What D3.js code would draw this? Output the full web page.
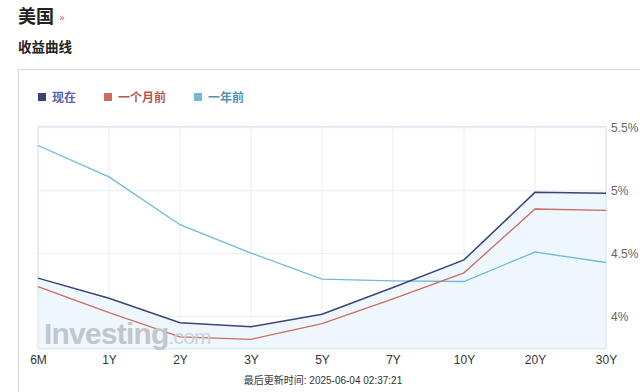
<!DOCTYPE html>
<html>
<head>
<meta charset="utf-8">
<script src="https://cdn.jsdelivr.net/npm/d3@7"></script>
<style>
  body { margin: 0; background: #fff; font-family: Arial, "Liberation Sans", "Noto Sans CJK SC", sans-serif; }
  #chart { width: 640px; height: 392px; }
</style>
</head>
<body>
<div id="chart"></div>
<script>
// tenors and yields (%)
const categories = ["6M", "1Y", "2Y", "3Y", "5Y", "7Y", "10Y", "20Y", "30Y"];
const current = [4.306, 4.146, 3.952, 3.92, 4.019, 4.231, 4.451, 4.987, 4.979];
const monthAgo = [4.239, 4.032, 3.84, 3.82, 3.944, 4.141, 4.348, 4.855, 4.844];
const yearAgo = [5.359, 5.11, 4.73, 4.505, 4.298, 4.284, 4.279, 4.513, 4.43];
const yTicks = [4, 4.5, 5, 5.5];
const yTickLabels = ["4%", "4.5%", "5%", "5.5%"];
const seriesNames = ["现在", "一个月前", "一年前"];
const updated = "最后更新时间: 2025-06-04 02:37:21";

const colors = ["#3b4379", "#cd6b62", "#71b9db"];
const textColors = ["#5a60ad", "#b55a50", "#4f93b5"];

const width = 640, height = 392;
const margin = { top: 126.5, right: 34, bottom: 43, left: 38 };

const svg = d3.select("#chart").append("svg")
  .attr("width", width)
  .attr("height", height);

// page header
svg.append("text").attr("x", 18).attr("y", 23)
  .attr("font-size", 18).attr("font-weight", "bold").attr("fill", "#222")
  .text("美国");
svg.append("text").attr("x", 59).attr("y", 21)
  .attr("font-size", 10).attr("fill", "#8a6f8c").text("»");
svg.append("text").attr("x", 18).attr("y", 52)
  .attr("font-size", 13.5).attr("font-weight", "bold").attr("fill", "#222")
  .text("收益曲线");

// container box (top and left edges)
svg.append("path")
  .attr("d", "M18.5,392 V69.5 H640")
  .attr("fill", "none").attr("stroke", "#d6d6d6");

// legend
const legend = svg.append("g");
const legendX = [38, 104, 194];
seriesNames.forEach((name, i) => {
  legend.append("rect").attr("x", legendX[i]).attr("y", 93)
    .attr("width", 8).attr("height", 8).attr("fill", colors[i]);
  legend.append("text").attr("x", legendX[i] + 14).attr("y", 102)
    .attr("font-size", 12).attr("font-weight", "bold").attr("fill", textColors[i])
    .text(name);
});

const x = d3.scalePoint()
  .domain(categories)
  .range([margin.left, width - margin.right]);

const y = d3.scaleLinear()
  .domain([3.743, 5.51])
  .range([height - margin.bottom, margin.top]);

const g = svg.append("g");

// vertical grid
g.append("g")
  .selectAll("line")
  .data(categories)
  .join("line")
  .attr("x1", (d) => x(d)).attr("x2", (d) => x(d))
  .attr("y1", margin.top).attr("y2", height - margin.bottom)
  .attr("stroke", "#e6edf7");

// horizontal grid
g.append("g")
  .selectAll("line")
  .data(yTicks)
  .join("line")
  .attr("x1", margin.left).attr("x2", width - margin.right)
  .attr("y1", (d) => y(d)).attr("y2", (d) => y(d))
  .attr("stroke", "#e6edf7");

// area under current curve
const area = d3.area()
  .x((d, i) => x(categories[i]))
  .y0(height - margin.bottom)
  .y1((d) => y(d));
g.append("path").datum(current)
  .attr("d", area)
  .attr("fill", "#eef7fe");

// watermark
svg.append("text").attr("x", 44).attr("y", 344)
  .attr("font-size", 30).attr("font-weight", "bold").attr("fill", "#c3c6cb")
  .attr("font-family", "Arial, 'Liberation Sans', sans-serif")
  .attr("letter-spacing", -0.8)
  .text("Investing")
  .append("tspan").attr("font-size", 21).attr("font-weight", "normal")
  .attr("fill", "#cfd2d6").text(".com");

// plot border
g.append("rect")
  .attr("x", margin.left).attr("y", margin.top)
  .attr("width", width - margin.right - margin.left)
  .attr("height", height - margin.bottom - margin.top)
  .attr("fill", "none").attr("stroke", "#dce5f1");

// lines
const line = d3.line()
  .x((d, i) => x(categories[i]))
  .y((d) => y(d));
[yearAgo, monthAgo, current].forEach((s, k) => {
  const ci = [2, 1, 0][k];
  g.append("path").datum(s)
    .attr("d", line)
    .attr("fill", "none")
    .attr("stroke", colors[ci])
    .attr("stroke-width", ci === 0 ? 1.5 : 1.3);
});

// x axis
const xAxis = svg.append("g")
  .attr("transform", `translate(0,${height - margin.bottom})`)
  .call(d3.axisBottom(x).tickSize(0).tickPadding(6));
xAxis.select(".domain").remove();
xAxis.selectAll("text")
  .attr("font-size", 12).attr("fill", "#333")
  .attr("font-family", "Arial, 'Liberation Sans', sans-serif");

// y axis (right)
const yAxis = svg.append("g")
  .attr("transform", `translate(${width - margin.right},0)`)
  .call(d3.axisRight(y).tickValues(yTicks)
    .tickFormat((d, i) => yTickLabels[i]).tickSize(0).tickPadding(5));
yAxis.select(".domain").remove();
yAxis.selectAll("text")
  .attr("font-size", 12).attr("fill", "#666")
  .attr("font-family", "Arial, 'Liberation Sans', sans-serif");

// footer
svg.append("text").attr("x", 323).attr("y", 384)
  .attr("text-anchor", "middle").attr("font-size", 10).attr("fill", "#333")
  .text(updated);
</script>
</body>
</html>
